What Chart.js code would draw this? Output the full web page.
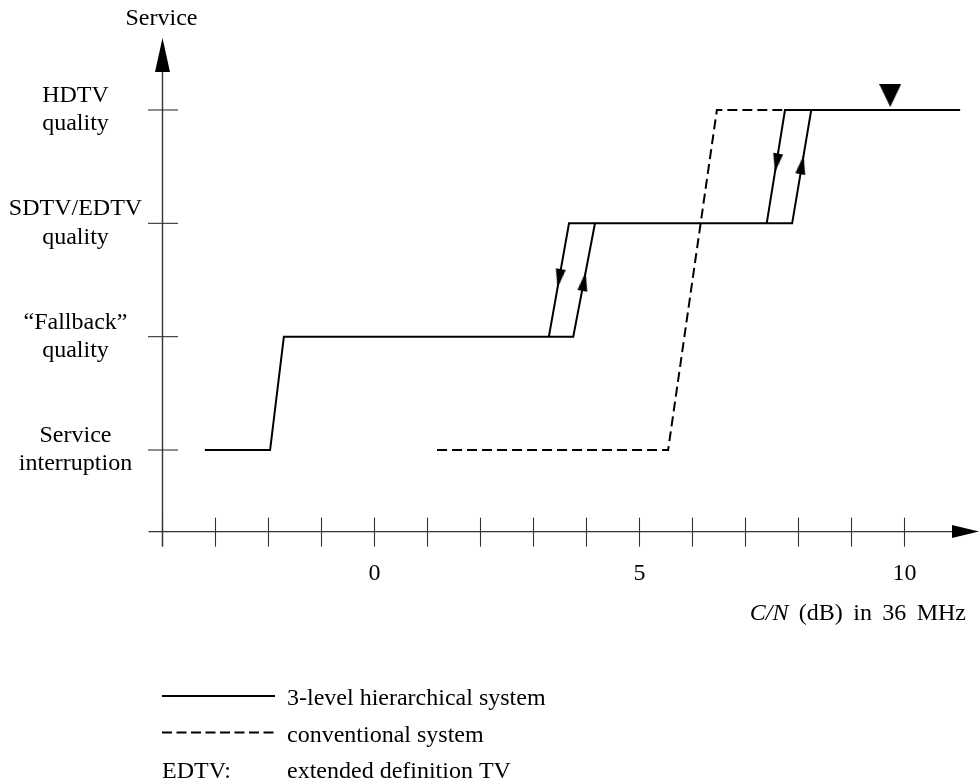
<!DOCTYPE html>
<html>
<head>
<meta charset="utf-8">
<script src="https://cdn.jsdelivr.net/npm/chart.js@4/dist/chart.umd.min.js"></script>
<style>
html,body{margin:0;padding:0;background:#fff;}
#wrap{position:relative;width:979px;height:782px;}
</style>
</head>
<body>
<div id="wrap"><canvas id="c"></canvas></div>
<script>
// ---- data ----
const serviceLevels = [['Service','interruption'],['\u201CFallback\u201D','quality'],['SDTV/EDTV','quality'],['HDTV','quality']];
const levelValues = [0, 1, 2, 3];
const xTickValues = [-4,-3,-2,-1,0,1,2,3,4,5,6,7,8,9,10];
const xTickLabels = [0, 5, 10];
const xAxisTitleWords = [['C/N', true], ['(dB)', false], ['in', false], ['36', false], ['MHz', false]];
const yAxisTitle = 'Service';

// 3-level hierarchical system (up-switching path)
const hierX = [-3.2, -1.97, -1.71, 3.75, 4.16, 7.88, 8.24, 11.05];
const hierY = [0, 0, 1, 1, 2, 2, 3, 3];
// hysteresis down-switching paths
const down1X = [4.16, 3.67, 3.29];
const down1Y = [2, 2, 1];
const down2X = [8.24, 7.745, 7.40];
const down2Y = [3, 3, 2];
// conventional system
const convX = [1.18, 5.54, 6.46, 7.745];
const convY = [0, 0, 3, 3];
// direction arrows on the switching lines
const downArrowX = [3.453, 7.555];
const downArrowY = [1.43, 2.45];
const upArrowX = [3.984, 8.096];
const upArrowY = [1.57, 2.6];
// operating-point marker
const markerX = [9.73];
const markerY = [3];

const legendLabels = ['3-level hierarchical system', 'conventional system'];
const noteLabel = ['EDTV:', 'extended definition TV'];

// ---- helpers ----
const pts = (xs, ys) => xs.map((v, i) => ({x: v, y: ys[i]}));
const FONT = '24px "Liberation Serif", "Times New Roman", serif';
const IFONT = 'italic 24px "Liberation Serif", "Times New Roman", serif';

function arrowImage(w, h) {
  const c = document.createElement('canvas');
  c.width = w; c.height = h * 2;
  const g = c.getContext('2d');
  g.fillStyle = '#000';
  g.beginPath();
  g.moveTo(w / 2, h); g.lineTo(0, h * 2); g.lineTo(w, h * 2); g.closePath();
  g.fill();
  return c;
}
function markerImage(w, h, gap) {
  const c = document.createElement('canvas');
  const H = (h + gap) * 2;
  c.width = w; c.height = H;
  const g = c.getContext('2d');
  g.fillStyle = '#000';
  g.beginPath();
  g.moveTo(0, 0); g.lineTo(w, 0); g.lineTo(w / 2, h); g.closePath();
  g.fill();
  return c;
}
const arrowImg = arrowImage(10, 19);
const markImg = markerImage(22, 23, 3);

const X_CROSS = -4;
const Y_CROSS = -0.72;

const axesPlugin = {
  id: 'axesPlugin',
  beforeDatasetsDraw(chart) {
    const {ctx, scales: {x, y}} = chart;
    const x0 = x.getPixelForValue(X_CROSS);
    const y0 = y.getPixelForValue(Y_CROSS);
    const yTop = y.getPixelForValue(levelValues[levelValues.length - 1]) - 72;
    ctx.save();
    ctx.strokeStyle = '#333';
    ctx.fillStyle = '#000';
    ctx.lineWidth = 1.4;
    ctx.beginPath();
    ctx.moveTo(x0 - 14, y0);
    ctx.lineTo(chart.width - 20, y0);
    ctx.stroke();
    ctx.beginPath();
    ctx.moveTo(chart.width, y0);
    ctx.lineTo(chart.width - 27, y0 - 6.5);
    ctx.lineTo(chart.width - 27, y0 + 6.5);
    ctx.closePath();
    ctx.fill();
    ctx.beginPath();
    ctx.moveTo(x0, y0 + 15);
    ctx.lineTo(x0, yTop + 20);
    ctx.stroke();
    ctx.beginPath();
    ctx.moveTo(x0, yTop);
    ctx.lineTo(x0 - 7.5, yTop + 34);
    ctx.lineTo(x0 + 7.5, yTop + 34);
    ctx.closePath();
    ctx.fill();
    ctx.lineWidth = 1.1;
    xTickValues.forEach(v => {
      const px = x.getPixelForValue(v);
      ctx.beginPath();
      ctx.moveTo(px, y0 - 14);
      ctx.lineTo(px, y0 + 15);
      ctx.stroke();
    });
    levelValues.forEach(v => {
      const py = y.getPixelForValue(v);
      ctx.beginPath();
      ctx.moveTo(x0 - 14.5, py);
      ctx.lineTo(x0 + 15.5, py);
      ctx.stroke();
    });
    ctx.font = FONT;
    ctx.textAlign = 'center';
    ctx.textBaseline = 'alphabetic';
    xTickLabels.forEach(v => {
      ctx.fillText(String(v), x.getPixelForValue(v), y0 + 48);
    });
    levelValues.forEach((v, i) => {
      const py = y.getPixelForValue(v);
      const lines = serviceLevels[i];
      ctx.fillText(lines[0], x0 - 87, py - 8);
      ctx.fillText(lines[1], x0 - 87, py + 20.5);
    });
    ctx.fillText(yAxisTitle, x0 - 1, yTop - 13);
    // x-axis title
    ctx.textAlign = 'left';
    const startX = x.getPixelForValue(7.08);
    const endX = chart.width - 13;
    const ty = y0 + 88;
    let total = 0;
    const widths = xAxisTitleWords.map(([w, it]) => { ctx.font = it ? IFONT : FONT; const m = ctx.measureText(w).width; total += m; return m; });
    const gap = (endX - startX - total) / (xAxisTitleWords.length - 1);
    let tx = startX;
    xAxisTitleWords.forEach(([w, it], i) => {
      ctx.font = it ? IFONT : FONT;
      ctx.fillText(w, tx, ty);
      tx += widths[i] + gap;
    });
    ctx.restore();
  },
  afterDraw(chart) {
    const {ctx, scales: {x}} = chart;
    const lx0 = x.getPixelForValue(X_CROSS) - 0.5;
    const lx1 = lx0 + 113;
    const tx = lx0 + 125;
    const rows = [705, 741.5, 778];
    ctx.save();
    ctx.strokeStyle = '#000';
    ctx.fillStyle = '#000';
    ctx.lineWidth = 2;
    ctx.beginPath(); ctx.moveTo(lx0, rows[0] - 9); ctx.lineTo(lx1, rows[0] - 9); ctx.stroke();
    ctx.setLineDash([10, 4.5]);
    ctx.beginPath(); ctx.moveTo(lx0, rows[1] - 9); ctx.lineTo(lx1, rows[1] - 9); ctx.stroke();
    ctx.setLineDash([]);
    ctx.font = FONT;
    ctx.textAlign = 'left';
    ctx.textBaseline = 'alphabetic';
    ctx.fillText(legendLabels[0], tx, rows[0]);
    ctx.fillText(legendLabels[1], tx, rows[1]);
    ctx.fillText(noteLabel[0], lx0, rows[2]);
    ctx.fillText(noteLabel[1], tx, rows[2]);
    ctx.restore();
  }
};

const lineStyle = {showLine: true, borderColor: '#000', borderWidth: 2, pointRadius: 0, pointHoverRadius: 0, tension: 0, fill: false, clip: false};

new Chart(document.getElementById('c'), {
  type: 'scatter',
  data: {
    datasets: [
      Object.assign({label: legendLabels[0], data: pts(hierX, hierY)}, lineStyle),
      Object.assign({label: 'down-switch 1', data: pts(down1X, down1Y)}, lineStyle),
      Object.assign({label: 'down-switch 2', data: pts(down2X, down2Y)}, lineStyle),
      Object.assign({label: legendLabels[1], data: pts(convX, convY)}, lineStyle, {borderDash: [10, 5]}),
      {label: 'down arrows', data: pts(downArrowX, downArrowY), pointStyle: arrowImg, pointRadius: 5, rotation: 190, showLine: false, clip: false},
      {label: 'up arrows', data: pts(upArrowX, upArrowY), pointStyle: arrowImg, pointRadius: 5, rotation: 10, showLine: false, clip: false},
      {label: 'marker', data: pts(markerX, markerY), pointStyle: markImg, pointRadius: 5, rotation: 0, showLine: false, clip: false}
    ]
  },
  options: {
    responsive: true,
    maintainAspectRatio: false,
    animation: false,
    events: [],
    layout: {padding: {left: 136, right: 10.9, top: 53.33, bottom: 218.67}},
    plugins: {legend: {display: false}, tooltip: {enabled: false}},
    scales: {
      x: {type: 'linear', min: -4.5, max: 11.2, display: false},
      y: {type: 'linear', min: -1, max: 3.5, display: false}
    }
  },
  plugins: [axesPlugin]
});
</script>
</body>
</html>
